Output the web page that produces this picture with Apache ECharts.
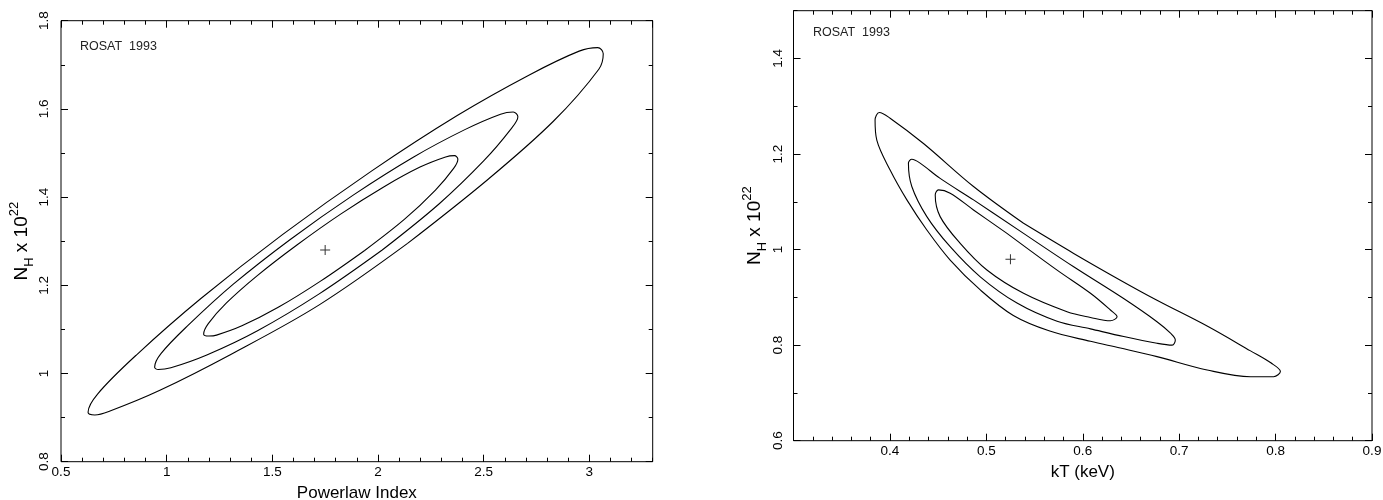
<!DOCTYPE html>
<html><head><meta charset="utf-8">
<script src="https://cdn.jsdelivr.net/npm/echarts@6/dist/echarts.min.js"></script>
<style>html,body{margin:0;padding:0;background:#fff}#c{width:1383px;height:500px}</style>
</head><body><div id="c"></div>
<script>
// ---------- data ----------
const leftXRange = [0.5, 3.3];
const leftYRange = [0.8, 1.8];
const leftXStep = [0.5, 0.1];
const leftYStep = [0.2, 0.1];
const rightXRange = [0.3, 0.9];
const rightYRange = [0.6, 1.5];
const rightXStep = [0.1, 0.02];
const rightYStep = [0.2, 0.1];

const leftBest = [[1.75, 1.28]];
const leftOuter = [[2.140,1.295],[1.720,1.155],[1.310,1.045],[0.968,0.962],[0.732,0.915],[0.660,0.906],[0.628,0.912],[0.674,0.954],[0.859,1.043],[1.162,1.170],[1.548,1.315],[1.969,1.459],[2.375,1.585],[2.716,1.677],[2.952,1.731],[3.040,1.739],[3.066,1.725],[3.045,1.690],[2.830,1.572],[2.520,1.440],[2.140,1.295]];
const leftMiddle = [[2.020,1.280],[1.720,1.180],[1.430,1.097],[1.190,1.042],[1.020,1.013],[0.960,1.009],[0.943,1.014],[0.973,1.045],[1.101,1.109],[1.314,1.202],[1.585,1.304],[1.881,1.404],[2.169,1.491],[2.411,1.553],[2.580,1.588],[2.640,1.593],[2.662,1.582],[2.627,1.553],[2.500,1.482],[2.290,1.385],[2.020,1.280]];
const leftInner = [[1.937,1.279],[1.730,1.210],[1.528,1.150],[1.356,1.108],[1.236,1.087],[1.200,1.085],[1.175,1.089],[1.197,1.113],[1.283,1.160],[1.429,1.222],[1.618,1.292],[1.825,1.362],[2.027,1.423],[2.199,1.468],[2.320,1.491],[2.362,1.494],[2.378,1.486],[2.358,1.465],[2.272,1.416],[2.126,1.350],[1.937,1.279]];

const rightBest = [[0.525, 0.98]];
const rightOuter = [[0.5386,1.055],[0.5906,0.992],[0.639,0.936],[0.677,0.894],[0.729,0.840],[0.774,0.788],[0.795,0.763],[0.805,0.745],[0.798,0.734],[0.774,0.734],[0.729,0.748],[0.677,0.776],[0.639,0.794],[0.608,0.808],[0.565,0.830],[0.528,0.862],[0.494,0.915],[0.4625,0.978],[0.4383,1.041],[0.4176,1.104],[0.4002,1.1665],[0.3864,1.229],[0.3846,1.271],[0.389,1.287],[0.4002,1.275],[0.4348,1.222],[0.4867,1.132],[0.5386,1.055]];
const rightMiddle = [[0.5386,1.034],[0.5906,0.964],[0.642,0.898],[0.677,0.849],[0.691,0.825],[0.696,0.811],[0.6927,0.800],[0.677,0.804],[0.6425,0.818],[0.608,0.834],[0.5734,0.850],[0.5318,0.888],[0.4937,0.943],[0.4625,1.006],[0.4383,1.069],[0.4227,1.132],[0.4192,1.181],[0.4227,1.189],[0.4313,1.181],[0.4521,1.149],[0.4867,1.104],[0.5386,1.034]];
const rightInner = [[0.5214,1.034],[0.5734,0.957],[0.608,0.9085],[0.6287,0.8735],[0.6356,0.8595],[0.6287,0.851],[0.608,0.858],[0.5837,0.870],[0.5386,0.9085],[0.5006,0.9573],[0.4729,1.013],[0.4521,1.069],[0.447,1.114],[0.4504,1.125],[0.4625,1.118],[0.4867,1.083],[0.5214,1.034]];

// ---------- styling ----------
const FONT = "'Liberation Sans', Arial, Helvetica, sans-serif";
const BLACK = '#000';

function axisSet(kind, gi, range, steps, opts) {
  const isX = kind === 'x';
  const posA = isX ? 'bottom' : 'left';
  const posB = isX ? 'top' : 'right';
  const base = {type: 'value', gridIndex: gi, min: range[0], max: range[1], splitLine: {show: false}, axisLine: {show: false}, scale: true};
  const major = Object.assign({}, base, {
    position: posA, interval: steps[0],
    axisTick: {show: true, inside: true, length: 7, lineStyle: {color: BLACK, width: 1}},
    axisLabel: {show: true, color: BLACK, fontFamily: FONT, fontSize: 13.5, margin: opts.margin,
      rotate: isX ? 0 : 90, showMinLabel: opts.showMin, showMaxLabel: opts.showMax},
    name: opts.name, nameLocation: 'middle', nameGap: opts.nameGap,
    nameTextStyle: opts.nameStyle
  });
  const minor = Object.assign({}, base, {
    position: posA, interval: steps[1],
    axisTick: {show: true, inside: true, length: 4, lineStyle: {color: BLACK, width: 1}},
    axisLabel: {show: false}
  });
  const majorB = Object.assign({}, base, {
    position: posB, interval: steps[0],
    axisTick: {show: true, inside: true, length: 7, lineStyle: {color: BLACK, width: 1}},
    axisLabel: {show: false}
  });
  const minorB = Object.assign({}, base, {
    position: posB, interval: steps[1],
    axisTick: {show: true, inside: true, length: 4, lineStyle: {color: BLACK, width: 1}},
    axisLabel: {show: false}
  });
  return [major, minor, majorB, minorB];
}

const xNameStyle = {fontFamily: FONT, fontSize: 17, color: BLACK};
const yNameStyle = {fontFamily: FONT, color: BLACK, rich: {
  n: {fontFamily: FONT, fontSize: 19, lineHeight: 28, color: BLACK},
  s: {fontFamily: FONT, fontSize: 13, lineHeight: 15, verticalAlign: 'bottom', color: BLACK},
  p: {fontFamily: FONT, fontSize: 13, lineHeight: 15, verticalAlign: 'top', color: BLACK}
}};
const yName = '{n|N}{s|H}{n| x 10}{p|22}';

const xAxes = [].concat(
  axisSet('x', 0, leftXRange, leftXStep, {showMin: true, showMax: false, margin: 4, name: 'Powerlaw Index', nameGap: 19, nameStyle: xNameStyle}),
  axisSet('x', 1, rightXRange, rightXStep, {showMin: false, showMax: true, margin: 4, name: 'kT (keV)', nameGap: 16, nameStyle: xNameStyle})
);
const yAxes = [].concat(
  axisSet('y', 0, leftYRange, leftYStep, {showMin: true, showMax: true, margin: 10, name: yName, nameGap: 24, nameStyle: yNameStyle}),
  axisSet('y', 1, rightYRange, rightYStep, {showMin: true, showMax: false, margin: 8, name: yName, nameGap: 25, nameStyle: yNameStyle})
);

function contour(data, ai) {
  return {type: 'line', data: data, xAxisIndex: ai, yAxisIndex: ai, smooth: 0.35,
    showSymbol: false, symbol: 'none', silent: true,
    lineStyle: {color: BLACK, width: 1.1}};
}
function best(data, ai) {
  return {type: 'scatter', data: data, xAxisIndex: ai, yAxisIndex: ai, silent: true,
    symbol: 'path://M4.5,0H5.5V10H4.5Z M0,4.5H10V5.5H0Z', symbolSize: 10,
    itemStyle: {color: BLACK}};
}

const chart = echarts.init(document.getElementById('c'), null, {renderer: 'canvas'});
chart.setOption({
  animation: false,
  backgroundColor: '#fff',
  title: [
    {text: 'ROSAT  1993', left: 80, top: 40, padding: 0, textStyle: {fontFamily: FONT, fontSize: 12.5, fontWeight: 'normal', color: '#222'}},
    {text: 'ROSAT  1993', left: 813, top: 26, padding: 0, textStyle: {fontFamily: FONT, fontSize: 12.5, fontWeight: 'normal', color: '#222'}}
  ],
  grid: [
    {left: 61, top: 20.7, width: 591.7, height: 441, show: true, borderColor: BLACK, borderWidth: 1, backgroundColor: 'transparent', containLabel: false, outerBoundsMode: 'none'},
    {left: 793.5, top: 10.7, width: 578.5, height: 430, show: true, borderColor: BLACK, borderWidth: 1, backgroundColor: 'transparent', containLabel: false, outerBoundsMode: 'none'}
  ],
  xAxis: xAxes,
  yAxis: yAxes,
  series: [
    contour(leftOuter, 0), contour(leftMiddle, 0), contour(leftInner, 0), best(leftBest, 0),
    contour(rightOuter, 4), contour(rightMiddle, 4), contour(rightInner, 4), best(rightBest, 4)
  ]
});
</script></body></html>
